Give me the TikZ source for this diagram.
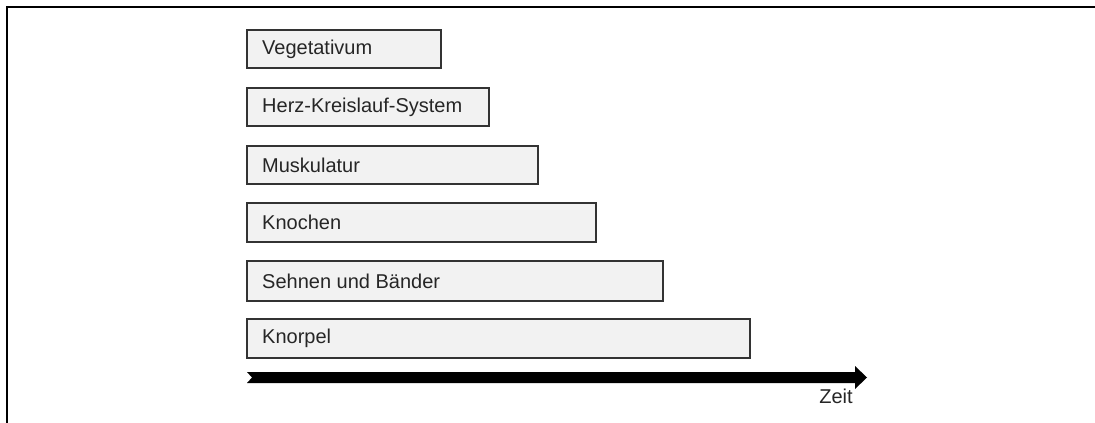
\documentclass[tikz,border=0pt]{standalone}
\usepackage{fontspec}
\setmainfont{Liberation Sans}
\begin{document}
\begin{tikzpicture}[x=1pt,y=-1pt,
  bar/.style={draw=black!80, line width=1.4pt, fill=black!5},
  lbl/.style={font=\fontsize{20}{24}\selectfont, text=black!85, inner sep=0pt}]
\useasboundingbox (0,0) rectangle (1095,423);
% frame edges
\draw[line width=2.8pt] (7,423) -- (7,7) -- (1095,7);
% bars with their labels
\newcommand\timebar[5]{%
  \draw[bar] (247,#2) rectangle (#3,#4);
  \node[lbl, anchor=west] (#1) at (262,{(#2+#4)/2}) {#5};}
\timebar{veg}{30}{441}{68}{Vegetativum}
\timebar{herz}{88}{489}{126}{Herz-Kreislauf-System}
\timebar{musk}{146}{538}{184}{Muskulatur}
\timebar{kno}{203}{596}{242}{Knochen}
\timebar{seh}{261}{663}{301}{Sehnen und Bänder}
\timebar{knp}{319}{750}{358}{Knorpel}
% time axis
\coordinate (t0) at (247,377.5);
\coordinate (t1) at (867,377.5);
\fill[black] (t0) ++(0,-5.5) -- ++(608,0) -- ++(0,-6) -- (t1) -- ++(-12,11.5) -- ++(0,-6)
  -- ++(-608,0) -- ++(5,-5.5) -- cycle;
\node[lbl, anchor=base] (zeit) at (836,403) {Zeit};
\end{tikzpicture}
\end{document}
